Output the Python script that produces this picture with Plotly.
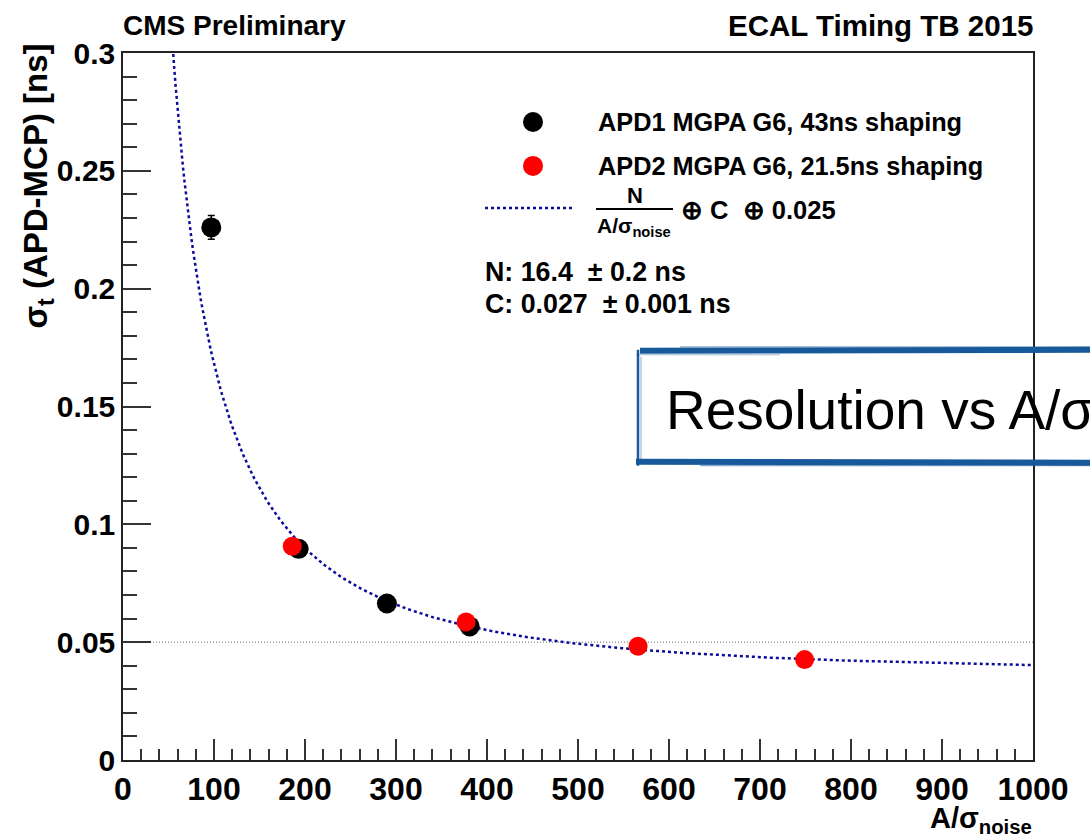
import numpy as np
import plotly.graph_objects as go

# APD1, MGPA gain 6, 43 ns shaping
apd1_amp = [97, 193, 290, 381]
apd1_sigma = [0.226, 0.0896, 0.0664, 0.0567]
apd1_err = [0.005, 0.0012, 0.001, 0.001]

# APD2, MGPA gain 6, 21.5 ns shaping
apd2_amp = [186, 377, 566, 749]
apd2_sigma = [0.0907, 0.0586, 0.0483, 0.0426]
apd2_err = [0.0012, 0.001, 0.0008, 0.0008]

# fit: N/(A/sigma) (+) C (+) 0.025
N_FIT = 16.4
C_FIT = 0.027
CONST_TERM = 0.025
FIT_RANGE = (50, 1000)

x_ticks = [0, 100, 200, 300, 400, 500, 600, 700, 800, 900, 1000]
y_ticks = [0, 0.05, 0.1, 0.15, 0.2, 0.25, 0.3]
REF_LINE = 0.05

W, H = 1090, 837
L, R, T, B = 123, 1033, 53, 760.5


def px(x):
    return (x - L) / (R - L)


def py(y):
    return (B - y) / (B - T)


FONT = "Liberation Sans"
BLUE_FIT = "#0c0c9c"

x_fit = np.linspace(FIT_RANGE[0], FIT_RANGE[1], 600)
y_fit = np.sqrt((N_FIT / x_fit) ** 2 + C_FIT ** 2 + CONST_TERM ** 2)

fig = go.Figure()

fig.add_trace(go.Scatter(
    x=[x_ticks[0], x_ticks[-1]], y=[REF_LINE, REF_LINE], mode="lines",
    line=dict(color="#666666", width=1, dash="1px,2px"), hoverinfo="skip"))

fig.add_trace(go.Scatter(
    x=x_fit, y=y_fit, mode="lines",
    line=dict(color=BLUE_FIT, width=2.5, dash="3px,3px"), hoverinfo="skip"))

fig.add_trace(go.Scatter(
    x=apd1_amp, y=apd1_sigma, mode="markers",
    marker=dict(color="black", size=20),
    error_y=dict(type="data", array=apd1_err, color="black", thickness=1.5, width=3.5)))

fig.add_trace(go.Scatter(
    x=apd2_amp, y=apd2_sigma, mode="markers",
    marker=dict(color="#ff0000", size=19),
    error_y=dict(type="data", array=apd2_err, color="#ff0000", thickness=1.5, width=3.5)))

tickc = "#333333"
fig.update_xaxes(
    range=[0, 1000], tickvals=x_ticks, ticks="inside", ticklen=21, tickwidth=1.5, tickcolor=tickc,
    minor=dict(dtick=20, ticks="inside", ticklen=11, tickwidth=1.5, tickcolor=tickc),
    showline=True, linecolor="#222222", linewidth=1.5, mirror=True,
    showgrid=False, zeroline=False,
    tickfont=dict(family=FONT, size=32, color="black", weight="bold"))
fig.update_yaxes(
    range=[0, 0.3], tickvals=y_ticks, ticks="inside", ticklen=28, tickwidth=1.5, tickcolor=tickc,
    minor=dict(dtick=0.01, ticks="inside", ticklen=14, tickwidth=1.5, tickcolor=tickc),
    showline=True, linecolor="#222222", linewidth=1.5, mirror=True,
    showgrid=False, zeroline=False,
    tickfont=dict(family=FONT, size=30, color="black", weight="bold"))

ann = []


def text(s, x, y, size, xanchor="left", yanchor="middle", angle=0, color="black"):
    ann.append(dict(text=s, x=px(x), y=py(y), xref="paper", yref="paper",
                    xanchor=xanchor, yanchor=yanchor, showarrow=False, textangle=angle,
                    font=dict(family=FONT, size=size, color=color)))


text("<b>CMS Preliminary</b>", 121, 25, 28)
text("<b>ECAL Timing TB 2015</b>", 1035, 25, 29.5, xanchor="right")
text("<b>σ<sub>t</sub> (APD-MCP) [ns]</b>", 38, 42, 33, xanchor="center", yanchor="top", angle=-90)
text("<b>A/σ<sub>noise</sub></b>", 1034, 801, 29, xanchor="right", yanchor="top")

# legend entries
text("<b>APD1 MGPA G6, 43ns shaping</b>", 596, 122, 25.3)
text("<b>APD2 MGPA G6, 21.5ns shaping</b>", 596, 166, 25.3)
text("<b>N</b>", 635, 196, 22, xanchor="center")
text("<b>A/σ<sub>noise</sub></b>", 595, 212, 21, yanchor="top")
text("<b>⊕ C&nbsp;&nbsp;⊕ 0.025</b>", 679, 210, 25.5)
text("<b>N: 16.4&nbsp;&nbsp;± 0.2 ns</b>", 483, 272, 26.8)
text("<b>C: 0.027&nbsp;&nbsp;± 0.001 ns</b>", 483, 304, 26.8)

# overlay caption
text("Resolution vs A/σ", 664, 410, 55)

shapes = []
for cx, cy, col in [(533, 122, "black"), (533, 166, "#ff0000")]:
    shapes.append(dict(type="circle", xref="paper", yref="paper",
                       x0=px(cx - 10), x1=px(cx + 10), y0=py(cy + 10), y1=py(cy - 10),
                       fillcolor=col, line=dict(width=0)))
shapes.append(dict(type="line", xref="paper", yref="paper",
                   x0=px(485), x1=px(574), y0=py(208), y1=py(208),
                   line=dict(color=BLUE_FIT, width=2.5, dash="3px,3px")))
shapes.append(dict(type="line", xref="paper", yref="paper",
                   x0=px(596), x1=px(673), y0=py(209), y1=py(209),
                   line=dict(color="black", width=2)))

# sketched blue frame around the caption
BOX = "#17599a"
for x0, y0, x1, y1, w, op in [
    (640, 351, 1100, 350, 6, 1.0), (680, 347, 1100, 347, 1.2, 0.5), (636, 355, 780, 355, 1, 0.4),
    (636, 462, 1100, 463, 6, 1.0), (700, 466, 1100, 466, 1.2, 0.5),
    (638, 350, 638, 466, 2.5, 1.0), (641, 357, 641, 460, 1, 0.5),
]:
    shapes.append(dict(type="line", xref="paper", yref="paper", opacity=op,
                       x0=px(x0), x1=px(x1), y0=py(y0), y1=py(y1),
                       line=dict(color=BOX, width=w)))

fig.update_layout(
    width=W, height=H,
    margin=dict(l=L, r=W - R, t=T, b=H - B),
    plot_bgcolor="white", paper_bgcolor="white",
    showlegend=False, annotations=ann, shapes=shapes,
    font=dict(family=FONT, color="black"))

fig.write_html("out.html")
